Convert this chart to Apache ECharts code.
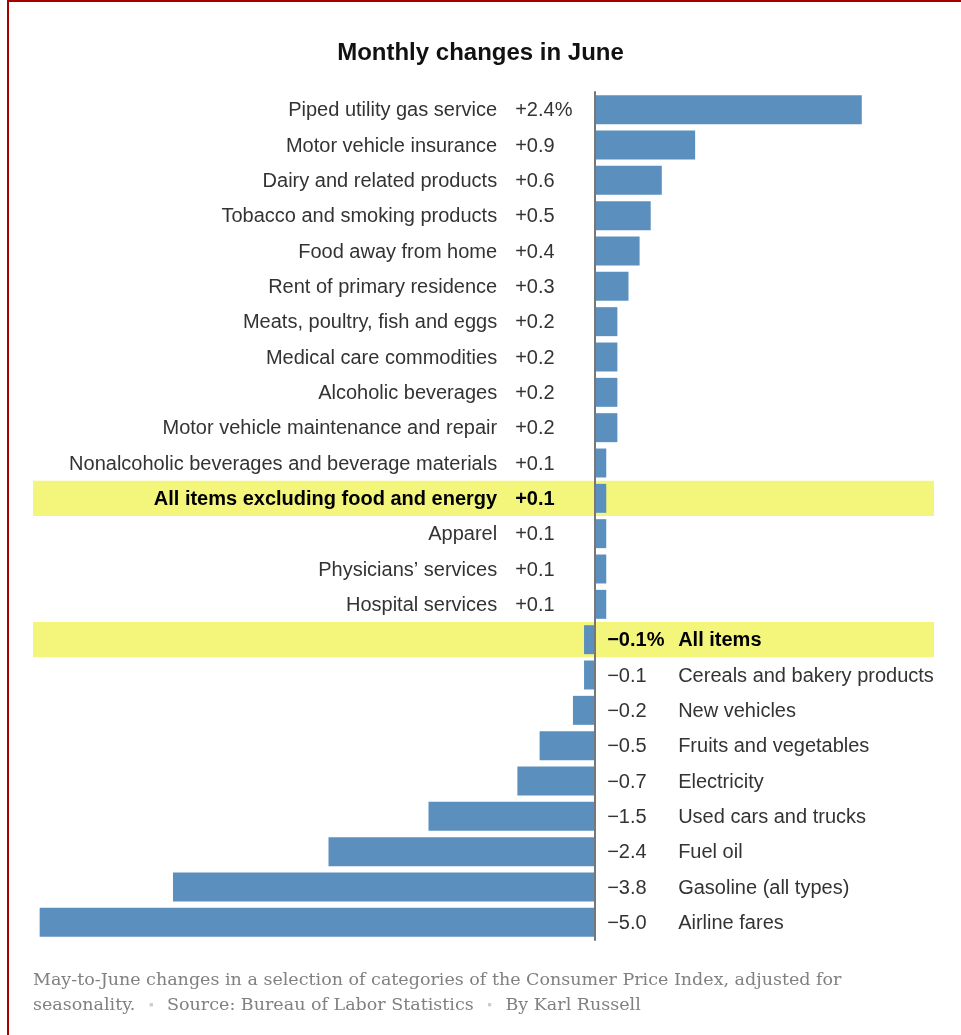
<!DOCTYPE html>
<html>
<head>
<meta charset="utf-8">
<title>Monthly changes in June</title>
<script src="https://cdn.jsdelivr.net/npm/echarts@6/dist/echarts.min.js"></script>
<style>
  html, body { margin: 0; padding: 0; background: #fff; }
  #chart { width: 961px; height: 1035px; }
  .frame {
    position: absolute; left: 7px; top: 0; right: 0; bottom: 0;
    border-top: 2px solid #a30000; border-left: 2px solid #a30000;
    pointer-events: none;
  }
</style>
</head>
<body>
<div id="chart"></div>
<div class="frame"></div>
<script>
// May-to-June change, percent (seasonally adjusted)
const categories = [
  'Piped utility gas service',
  'Motor vehicle insurance',
  'Dairy and related products',
  'Tobacco and smoking products',
  'Food away from home',
  'Rent of primary residence',
  'Meats, poultry, fish and eggs',
  'Medical care commodities',
  'Alcoholic beverages',
  'Motor vehicle maintenance and repair',
  'Nonalcoholic beverages and beverage materials',
  'All items excluding food and energy',
  'Apparel',
  'Physicians\u2019 services',
  'Hospital services',
  'All items',
  'Cereals and bakery products',
  'New vehicles',
  'Fruits and vegetables',
  'Electricity',
  'Used cars and trucks',
  'Fuel oil',
  'Gasoline (all types)',
  'Airline fares'
]
const values = [2.4, 0.9, 0.6, 0.5, 0.4, 0.3, 0.2, 0.2, 0.2, 0.2, 0.1, 0.1, 0.1, 0.1, 0.1,
  -0.1, -0.1, -0.2, -0.5, -0.7, -1.5, -2.4, -3.8, -5.0]
const highlightRows = ['All items excluding food and energy', 'All items']
const percentRows = ['Piped utility gas service', 'All items']

const sansFont = 'Liberation Sans, Arial, sans-serif'
const serifFont = 'DejaVu Serif, serif'

function fmtValue (v, name) {
  return (v > 0 ? '+' : '\u2212') + Math.abs(v).toFixed(1) + (percentRows.includes(name) ? '%' : '')
}

const n = { fontFamily: sansFont, fontSize: 20, color: '#333', align: 'left' }
const nb = { fontFamily: sansFont, fontSize: 20, color: '#000', fontWeight: 'bold', align: 'left' }

// positive rows: name + value to the left of the zero line
const labelLeft = {
  show: true,
  position: 'left',
  distance: 4,
  offset: [0, 1],
  formatter: function (p) {
    const b = highlightRows.includes(p.name) ? 'b' : ''
    return '{n' + b + '|' + p.name + '}{v' + b + '|' + fmtValue(p.value, p.name) + '}'
  },
  rich: {
    n: Object.assign({ padding: [0, 18, 0, 0] }, n),
    nb: Object.assign({ padding: [0, 18, 0, 0] }, nb),
    v: Object.assign({ width: 76 }, n),
    vb: Object.assign({ width: 76 }, nb)
  }
}
// negative rows: value + name to the right of the zero line
const labelRight = {
  show: true,
  position: 'right',
  distance: 12,
  offset: [0, 1],
  formatter: function (p) {
    const b = highlightRows.includes(p.name) ? 'b' : ''
    return '{v' + b + '|' + fmtValue(p.value, p.name) + '}{n' + b + '|' + p.name + '}'
  },
  rich: {
    n: n,
    nb: nb,
    v: Object.assign({ width: 71 }, n),
    vb: Object.assign({ width: 71 }, nb)
  }
}

const chart = echarts.init(document.getElementById('chart'))

const option = {
  animation: false,
  title: {
    text: 'Monthly changes in June',
    left: 'center',
    top: 36,
    textStyle: { fontFamily: sansFont, fontSize: 24, fontWeight: 'bold', color: '#111' }
  },
  grid: { left: 33, right: 27, top: 92, bottom: 95, outerBoundsMode: 'none' },
  xAxis: { type: 'value', min: -5.06, max: 3.05, show: false },
  yAxis: [
    {
      // yellow bands behind the bars
      type: 'category',
      data: categories,
      inverse: true,
      axisLine: { show: false },
      axisTick: { show: false },
      axisLabel: { show: false },
      splitLine: { show: false },
      splitArea: {
        show: true,
        areaStyle: {
          color: categories.map(c => highlightRows.includes(c) ? '#f4f67c' : 'rgba(255,255,255,0)')
        }
      }
    },
    {
      // zero line drawn over the bars
      type: 'category',
      data: categories,
      inverse: true,
      z: 3,
      axisLine: { onZero: true, onZeroAxisIndex: 0, lineStyle: { color: '#777', width: 2 } },
      axisTick: { show: false },
      axisLabel: { show: false },
      splitLine: { show: false }
    }
  ],
  series: [
    {
      type: 'bar',
      yAxisIndex: 0,
      data: values.map(v => ({ value: v, label: v > 0 ? labelLeft : labelRight })),
      barCategoryGap: '18%',
      itemStyle: { color: '#5b8fbe' },
      silent: true
    }
  ],
  graphic: [
    {
      type: 'text',
      left: 33,
      top: 968,
      style: {
        text: 'May-to-June changes in a selection of categories of the Consumer Price Index, adjusted for\n' +
          'seasonality. {s|\u25AA} Source: Bureau of Labor Statistics {s|\u25AA} By Karl Russell',
        fill: '#808080',
        fontFamily: serifFont,
        fontSize: 17.5,
        lineHeight: 25,
        rich: {
          s: { fill: '#cccccc', fontSize: 13, lineHeight: 25, padding: [0, 8] }
        }
      }
    }
  ]
}

chart.setOption(option)
window.addEventListener('resize', chart.resize)
</script>
</body>
</html>
